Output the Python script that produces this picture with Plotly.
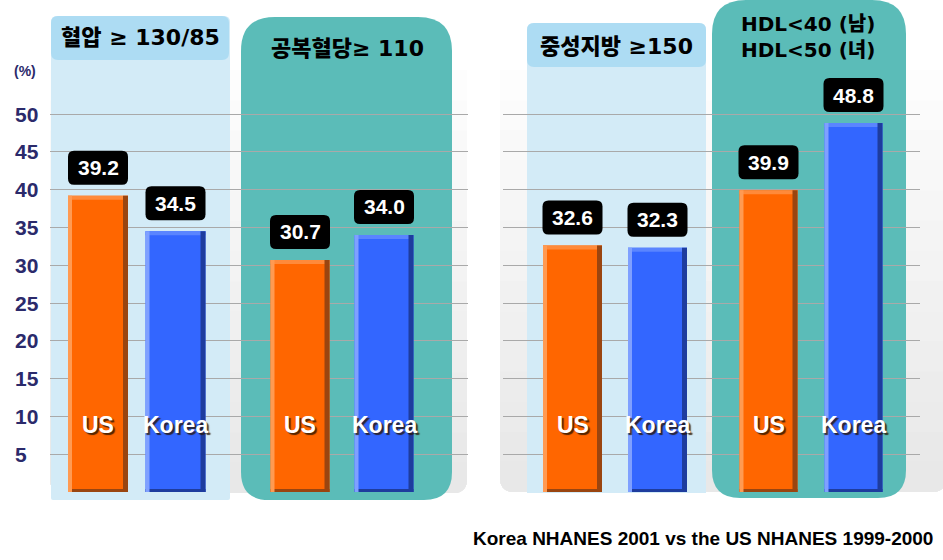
import plotly.graph_objects as go

W, H = 943, 560

# ---------------- data ----------------
groups = ["혈압 ≥ 130/85", "공복혈당≥ 110", "중성지방 ≥150", "HDL<40 (남)<br>HDL<50 (녀)"]
countries = ["US", "Korea"]
us_values = [39.2, 30.7, 32.6, 39.9]
korea_values = [34.5, 34.0, 32.3, 48.8]
y_ticks = [5, 10, 15, 20, 25, 30, 35, 40, 45, 50]
y_unit_label = "(%)"
source_note = "Korea NHANES 2001 vs the US NHANES 1999-2000"

# ---------------- layout constants (pixels) ----------------
ZERO_PX = 492
PX_PER_UNIT = 7.56
Y_MAX = ZERO_PX / PX_PER_UNIT
group_spans = [(59.25, 214.25), (258, 426), (530, 700), (726, 896)]
bar_px = [60, 59, 59, 58]
title_pos = [(140, 38), (347, 48), (616, 46), (808, 37)]
title_size = [22, 22, 22, 20]

ORANGE = dict(main="#FF6600", light="#FF9A52", dark="#9A4510", top="#FF8A3A")
BLUE = dict(main="#3366FF", light="#7FA0FF", dark="#1E3C9E", top="#5A85FF")
PAL = [ORANGE, BLUE]

SANS = "Liberation Sans, Arial, sans-serif"
TITLE_FONT = "DejaVu Sans, Noto Sans CJK KR, sans-serif"


def X(x):
    return x / W


def Y(y):
    return 1 - y / H


def rrect(x0, y0, x1, y1, rt, rb):
    return (f"M {X(x0+rt)},{Y(y0)} L {X(x1-rt)},{Y(y0)} Q {X(x1)},{Y(y0)} {X(x1)},{Y(y0+rt)} "
            f"L {X(x1)},{Y(y1-rb)} Q {X(x1)},{Y(y1)} {X(x1-rb)},{Y(y1)} "
            f"L {X(x0+rb)},{Y(y1)} Q {X(x0)},{Y(y1)} {X(x0)},{Y(y1-rb)} "
            f"L {X(x0)},{Y(y0+rt)} Q {X(x0)},{Y(y0)} {X(x0+rt)},{Y(y0)} Z")


def pix_rrect(x0, y0, x1, y1, r):
    # pixel-relative path (y up)
    return (f"M {x0+r},{y1} L {x1-r},{y1} Q {x1},{y1} {x1},{y1-r} "
            f"L {x1},{y0+r} Q {x1},{y0} {x1-r},{y0} "
            f"L {x0+r},{y0} Q {x0},{y0} {x0},{y0+r} "
            f"L {x0},{y1-r} Q {x0},{y1} {x0+r},{y1} Z")


shapes = []

# grey background panels with a soft vertical gradient
def panel(x0, x1, ytop, ybot, r):
    n = 14
    for i in range(n):
        yi = ytop + (ybot - ytop) * i / n
        c = int(253 - (253 - 232) * i / (n - 1))
        shapes.append(dict(type="path", path=rrect(x0, yi, x1, ybot, 0, r),
                           xref="paper", yref="paper", layer="below",
                           fillcolor=f"rgb({c},{c},{c})", line=dict(width=0)))

panel(50, 467, 70, 493, 14)
panel(500, 946, 70, 492, 14)

LB_BODY = "#D3EBF7"
LB_TITLE = "#ADDCF3"
TEAL = "#5BBCB8"
box_specs = [
    (rrect(51, 16, 230, 500, 6, 2), LB_BODY),
    (rrect(51, 16, 229, 60, 7, 7), LB_TITLE),
    (rrect(241, 17, 452, 500, 34, 28), TEAL),
    (rrect(527, 23, 706, 493, 7, 0), LB_BODY),
    (rrect(527, 23, 706, 67, 7, 7), LB_TITLE),
    (rrect(712, 0, 906, 498, 34, 28), TEAL),
]
for p, col in box_specs:
    shapes.append(dict(type="path", path=p, xref="paper", yref="paper", layer="below",
                       fillcolor=col, line=dict(width=0)))

fig = go.Figure()

# grid-only subplots (drawn first so bars sit on top of grid)
for xa in ["x", "x2"]:
    fig.add_trace(go.Scatter(x=[None], y=[None], xaxis=xa, yaxis="y",
                             showlegend=False, hoverinfo="skip"))

annotations = []

for g in range(4):
    xa = f"x{g+3}"
    a, b = group_spans[g]
    unit = (b - a) / 2.0
    w = bar_px[g] / unit
    sl = 4 / unit
    sr = 5 / unit
    vals = [us_values[g], korea_values[g]]
    top_h = 4 / PX_PER_UNIT
    bot_h = 3 / PX_PER_UNIT
    common = dict(x=countries, xaxis=xa, yaxis="y2", showlegend=False, hoverinfo="skip")
    fig.add_trace(go.Bar(y=vals, width=w, offset=-w / 2,
                         marker=dict(color=[p["main"] for p in PAL], line=dict(width=0)), **common))
    fig.add_trace(go.Bar(y=[top_h, top_h], base=[v - top_h for v in vals], width=w, offset=-w / 2,
                         marker=dict(color=[p["top"] for p in PAL], line=dict(width=0)), **common))
    fig.add_trace(go.Bar(y=[bot_h, bot_h], width=w, offset=-w / 2,
                         marker=dict(color=[p["dark"] for p in PAL], line=dict(width=0)), **common))
    fig.add_trace(go.Bar(y=vals, width=sl, offset=-w / 2,
                         marker=dict(color=[p["light"] for p in PAL], line=dict(width=0)), **common))
    fig.add_trace(go.Bar(y=vals, width=sr, offset=w / 2 - sr,
                         marker=dict(color=[p["dark"] for p in PAL], line=dict(width=0)), **common))

    for i, (cat, v) in enumerate(zip(countries, vals)):
        # black rounded value box
        shapes.append(dict(type="path", xref=xa, yref="y2", xsizemode="pixel", ysizemode="pixel",
                           xanchor=i, yanchor=v, path=pix_rrect(-30, 11, 30, 45, 6),
                           fillcolor="black", line=dict(width=0), layer="above"))
        annotations.append(dict(x=cat, y=v, xref=xa, yref="y2", yshift=28, showarrow=False,
                                xanchor="center", yanchor="middle", text=f"{v:.1f}",
                                font=dict(family=SANS, size=21, color="white", weight="bold")))
        annotations.append(dict(x=cat, y=Y(425), xref=xa, yref="paper", showarrow=False,
                                xanchor="center", yanchor="middle", text=f"<b>{cat}</b>",
                                font=dict(family=SANS, size=23, color="white",
                                          shadow="2px 2px 1px rgba(40,20,0,0.8)")))

    tx, ty = title_pos[g]
    annotations.append(dict(x=X(tx), y=Y(ty), xref="paper", yref="paper", showarrow=False,
                            xanchor="center", yanchor="middle", text=groups[g],
                            font=dict(family=TITLE_FONT, size=title_size[g], color="black",
                                      weight=900)))

# y tick labels (left aligned)
for t in y_ticks:
    annotations.append(dict(x=X(13), y=t, xref="paper", yref="y", showarrow=False,
                            xanchor="left", yanchor="middle", text=f"<b>{t}</b>",
                            font=dict(family=SANS, size=21, color="#2B2A6B")))
annotations.append(dict(x=X(12), y=Y(71), xref="paper", yref="paper", showarrow=False,
                        xanchor="left", yanchor="middle", text=f"<b>{y_unit_label}</b>",
                        font=dict(family=SANS, size=14, color="#2B2A6B")))
annotations.append(dict(x=X(703), y=Y(538), xref="paper", yref="paper", showarrow=False,
                        xanchor="center", yanchor="middle", text=f"<b>{source_note}</b>",
                        font=dict(family=SANS, size=19, color="black")))

layout = dict(
    width=W, height=H, margin=dict(l=0, r=0, t=0, b=0),
    paper_bgcolor="white", plot_bgcolor="rgba(0,0,0,0)",
    showlegend=False, barmode="overlay",
    shapes=shapes, annotations=annotations,
    xaxis=dict(domain=[X(50), X(468)], range=[0, 1], visible=False, anchor="y", fixedrange=True),
    xaxis2=dict(domain=[X(503), X(920)], range=[0, 1], visible=False, anchor="y", fixedrange=True),
    yaxis=dict(domain=[1 - ZERO_PX / H, 1], range=[0, Y_MAX], tickvals=y_ticks,
               showticklabels=False, ticks="", showgrid=True, gridcolor="#A9A9A9", gridwidth=1,
               zeroline=False, showline=False, fixedrange=True),
    yaxis2=dict(domain=[1 - ZERO_PX / H, 1], range=[0, Y_MAX], visible=False, showgrid=False,
                anchor="x3", fixedrange=True),
)
for g in range(4):
    a, b = group_spans[g]
    layout[f"xaxis{g+3}"] = dict(domain=[X(a), X(b)], type="category", categoryorder="array",
                                 categoryarray=countries, range=[-0.5, 1.5], visible=False,
                                 anchor="y2", fixedrange=True)

fig.update_layout(**layout)
fig.write_html("out.html", config={"staticPlot": True},
               post_script="document.body.style.margin='0px';document.body.style.overflow='hidden';")
